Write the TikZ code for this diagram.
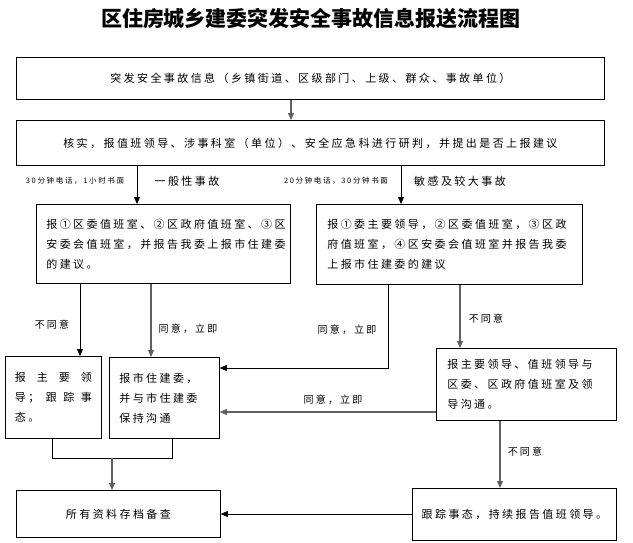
\documentclass[tikz,border=0pt]{standalone}
\usepackage{fontspec}
\newfontfamily\cjk{Noto Sans CJK SC}[LetterSpace=22]
\newfontfamily\cjktitle{Noto Sans CJK SC}
\usetikzlibrary{arrows.meta}

\tikzset{
  box/.style={draw, line width=0.8pt, anchor=north west, inner sep=0pt,
    font=\cjk\fontsize{11}{20}\selectfont},
  arr/.style={-{Triangle[width=6pt,length=7pt]}, line width=0.8pt},
  garr/.style={arr, draw=gray!75!black, line width=1.1pt},
  lbl/.style={font=\cjk\fontsize{10}{12}\selectfont},
  small/.style={font=\cjk\fontsize{7.5}{9}\selectfont},
  kind/.style={font=\cjk\fontsize{11}{13}\selectfont}
}

\begin{document}
\begin{tikzpicture}[x=1pt, y=-1pt]
\useasboundingbox (0,0) rectangle (633,542);

\node[font=\cjktitle\bfseries\fontsize{21}{24}\selectfont] (title) at (311,19) {区住房城乡建委突发安全事故信息报送流程图};

% boxes
\node[box, minimum width=588pt, minimum height=42pt] (info) at (16,57) {突发安全事故信息（乡镇街道、区级部门、上级、群众、事故单位）};
\node[box, minimum width=588pt, minimum height=45pt] (check) at (16,120) {核实，报值班领导、涉事科室（单位）、安全应急科进行研判，并提出是否上报建议};
\node[box, minimum width=254pt, minimum height=79pt, text width=234pt, align=left] (general) at (36,204) {报①区委值班室、②区政府值班室、③区\\安委会值班室，并报告我委上报市住建委\\的建议。};
\node[box, minimum width=266pt, minimum height=80pt, text width=244pt, align=left] (major) at (316,204) {报①委主要领导，②区委值班室，③区政\\府值班室，④区安委会值班室并报告我委\\上报市住建委的建议};
\node[box, minimum width=96pt, minimum height=82pt, text width=77pt, align=left] (lead) at (5,356) {报\hfill 主\hfill 要\hfill 领\\导；\hfill 跟\hfill 踪\hfill 事\\态。};
\node[box, minimum width=110pt, minimum height=81pt, text width=90pt, align=left] (city) at (109,357) {报市住建委，\\并与市住建委\\保持沟通};
\node[box, minimum width=180pt, minimum height=72pt, text width=158pt, align=left] (comm) at (436,348) {报主要领导、值班领导与\\区委、区政府值班室及领\\导沟通。};
\node[box, minimum width=204pt, minimum height=47pt] (archive) at (16,490) {所有资料存档备查};
\node[box, minimum width=204pt, minimum height=52pt] (track) at (412,488) {跟踪事态，持续报告值班领导。};

% labels
\node[small] (time1) at (75,181) {30分钟电话，1小时书面};
\node[kind] (kind1) at (187,181) {一般性事故};
\node[small] (time2) at (336,181) {20分钟电话，30分钟书面};
\node[kind] (kind2) at (460,181) {敏感及较大事故};
\node[lbl] (no1) at (52,325) {不同意};
\node[lbl] (yes1) at (188,329) {同意，立即};
\node[lbl] (yes2) at (347,330) {同意，立即};
\node[lbl] (no2) at (486,319) {不同意};
\node[lbl] (yes3) at (333,400) {同意，立即};
\node[lbl] (no3) at (525,452) {不同意};

% connector points
\coordinate (c1) at (291,0);
\coordinate (c2) at (137,0);
\coordinate (c3) at (401,0);
\coordinate (c4) at (80,0);
\coordinate (c5) at (151,0);
\coordinate (c6) at (460,0);
\coordinate (c7) at (500,0);
\coordinate (bend) at (388,368);
\coordinate (back) at (0,412);
\coordinate (mL) at (52,458);
\coordinate (mR) at (172,458);
\coordinate (mC) at (112,458);
\coordinate (low) at (0,514);

% connectors
\draw[garr] (info.south -| c1) -- (check.north -| c1);
\draw[arr] (check.south -| c2) -- (general.north -| c2);
\draw[arr] (check.south -| c3) -- (major.north -| c3);
\draw[arr] (general.south -| c4) -- (lead.north -| c4);
\draw[garr] (general.south -| c5) -- (city.north -| c5);
\draw[arr] (major.south -| bend) -- (bend) -- (bend -| city.east);
\draw[garr] (major.south -| c6) -- (comm.north -| c6);
\draw[garr] (comm.west |- back) -- (city.east |- back);
\draw[line width=0.8pt] (lead.south -| mL) -- (mL) -- (mR) -- (city.south -| mR);
\draw[garr] (mC) -- (archive.north -| mC);
\draw[garr] (comm.south -| c7) -- (track.north -| c7);
\draw[arr] (track.west |- low) -- (archive.east |- low);
\end{tikzpicture}
\end{document}
